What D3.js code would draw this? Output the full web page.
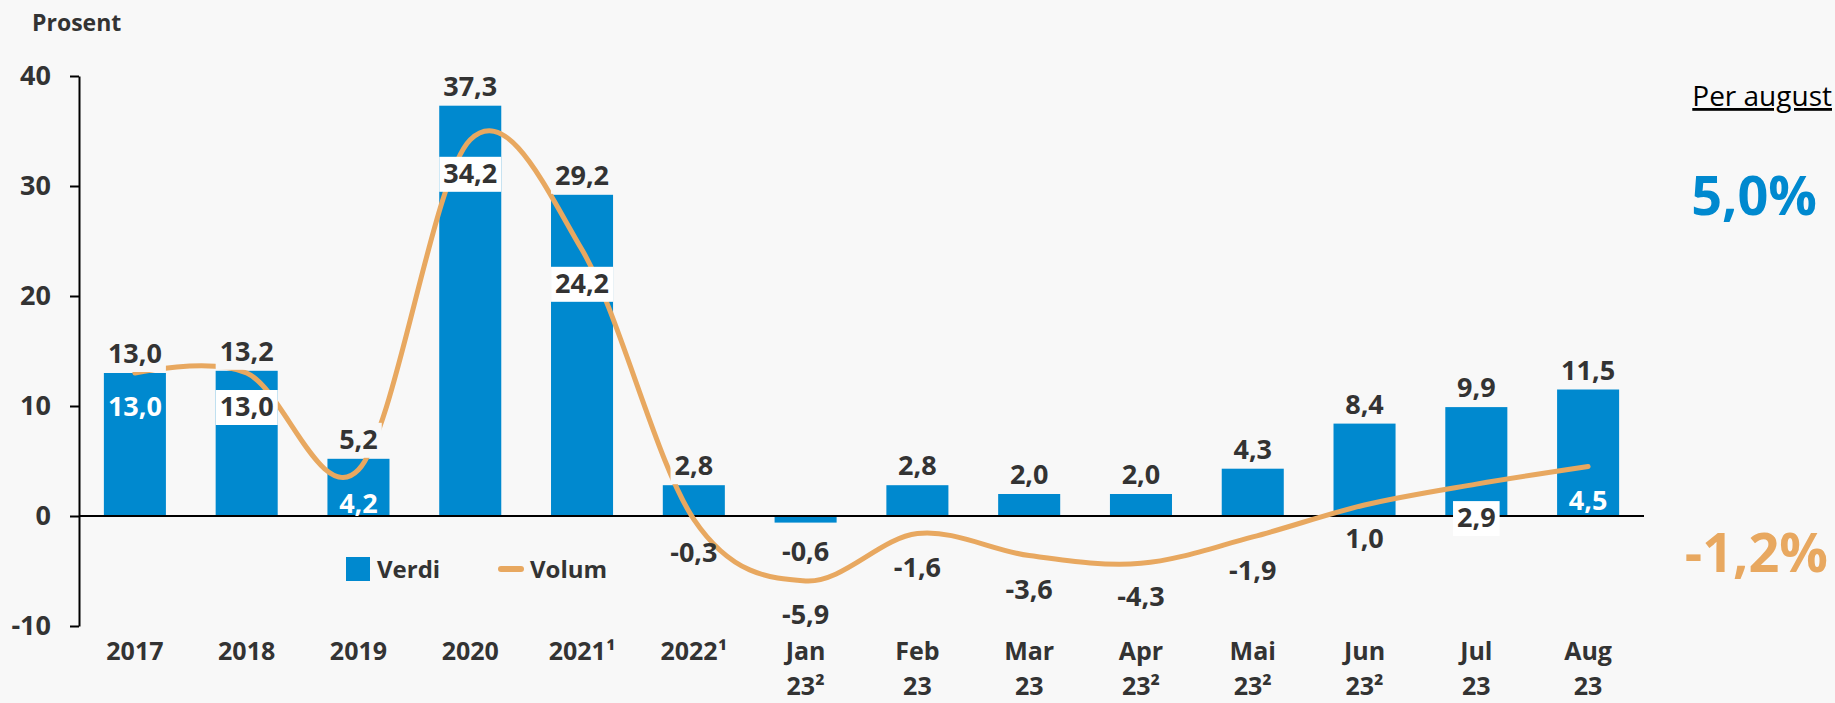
<!DOCTYPE html>
<html>
<head>
<meta charset="utf-8">
<script src="https://cdn.jsdelivr.net/npm/d3@7"></script>
<style>
  body { margin: 0; background: #f8f8f8; }
  text { font-family: "Open Sans", sans-serif; fill: #333; }
</style>
</head>
<body>
<svg id="chart"></svg>
<script>
const categories = ['2017', '2018', '2019', '2020', '2021¹', '2022¹', 'Jan 23²', 'Feb 23', 'Mar 23', 'Apr 23²', 'Mai 23²', 'Jun 23²', 'Jul 23', 'Aug 23'];
const verdi = [13.0, 13.2, 5.2, 37.3, 29.2, 2.8, -0.6, 2.8, 2.0, 2.0, 4.3, 8.4, 9.9, 11.5];
const volum = [13.0, 13.0, 4.2, 34.2, 24.2, -0.3, -5.9, -1.6, -3.6, -4.3, -1.9, 1.0, 2.9, 4.5];
// how each volum label is drawn: white text on bar, white box, or plain
const volumLabelStyle = ['white', 'box', 'white', 'box', 'box', 'plain', 'plain', 'plain', 'plain', 'plain', 'plain', 'plain', 'box', 'white'];
const yTicks = [-10, 0, 10, 20, 30, 40];
const seriesNames = ['Verdi', 'Volum'];
const summaryTitle = 'Per august';
const summaryValues = ['5,0%', '-1,2%'];

const width = 1835, height = 703;
const blue = '#0089cf', orange = '#e8a860', bg = '#f8f8f8';
const fmt = v => v.toFixed(1).replace('.', ',');

let svg = d3.select('#chart').attr('width', width).attr('height', height);
svg.append('rect').attr('width', width).attr('height', height).attr('fill', bg);

let x = d3.scaleBand().domain(categories).range([79, 1644]).paddingInner(0.445).paddingOuter(0.2225);
let y = d3.scaleLinear().domain([-10, 40]).range([626, 76]);
let cx = d => x(d) + x.bandwidth() / 2;

// y axis
let yAxis = svg.append('g')
  .attr('transform', 'translate(79,0)')
  .call(d3.axisLeft(y).tickValues(yTicks).tickSize(9).tickSizeOuter(0).tickPadding(19).tickFormat(d => String(d)));
yAxis.select('.domain').attr('stroke', '#000').attr('stroke-width', 2);
yAxis.selectAll('.tick line').attr('stroke', '#000').attr('stroke-width', 2);
yAxis.selectAll('.tick text')
  .attr('font-size', 27).attr('font-weight', 700).attr('fill', '#333')
  .style('font-family', '"Open Sans", sans-serif');

svg.append('text').attr('x', 32).attr('y', 31)
  .attr('font-size', 23).attr('font-weight', 700).text('Prosent');

// bars
svg.append('g').selectAll('rect')
  .data(categories)
  .enter()
  .append('rect')
  .attr('x', d => x(d))
  .attr('width', x.bandwidth())
  .attr('y', (d, i) => y(Math.max(0, verdi[i])))
  .attr('height', (d, i) => Math.abs(y(verdi[i]) - y(0)))
  .attr('fill', blue);

// zero line
svg.append('line')
  .attr('x1', 79).attr('x2', 1644)
  .attr('y1', y(0)).attr('y2', y(0))
  .attr('stroke', '#000').attr('stroke-width', 2);

// volum line
let line = d3.line()
  .x((d, i) => cx(categories[i]))
  .y(d => y(d))
  .curve(d3.curveCardinal.tension(0));

svg.append('path')
  .datum(volum)
  .attr('d', line)
  .attr('fill', 'none')
  .attr('stroke', orange)
  .attr('stroke-width', 5)
  .attr('stroke-linecap', 'round');

function addLabel(g, px, py, str, color, boxFill) {
  let t = g.append('text')
    .attr('x', px).attr('y', py)
    .attr('text-anchor', 'middle')
    .attr('font-size', 27).attr('font-weight', 700)
    .style('fill', color)
    .text(str);
  if (boxFill) {
    let b = t.node().getBBox();
    g.insert('rect', () => t.node())
      .attr('x', b.x - 4).attr('y', b.y + 3)
      .attr('width', b.width + 8).attr('height', b.height - 2)
      .attr('fill', boxFill);
  }
}

let labels = svg.append('g');

// verdi labels
categories.forEach((c, i) => {
  let v = verdi[i];
  let py = v >= 0 ? y(v) - 10 : y(v) + 38;
  addLabel(labels, cx(c), py, fmt(v), '#333', bg);
});

// volum labels
categories.forEach((c, i) => {
  let v = volum[i];
  let st = volumLabelStyle[i];
  addLabel(labels, cx(c), y(v) + 43, fmt(v),
    st === 'white' ? '#fff' : '#333',
    st === 'box' ? '#fff' : null);
});

// category labels, months on two lines
let cat = svg.append('g');
categories.forEach(c => {
  c.split(' ').forEach((p, k) => {
    cat.append('text')
      .attr('x', cx(c)).attr('y', 660 + k * 35)
      .attr('text-anchor', 'middle')
      .attr('font-size', 25).attr('font-weight', 700)
      .text(p);
  });
});

// legend
let legend = svg.append('g').attr('transform', 'translate(346,557)');
legend.append('rect').attr('width', 24).attr('height', 24).attr('fill', blue);
legend.append('text').attr('x', 31).attr('y', 21)
  .attr('font-size', 24).attr('font-weight', 700).text(seriesNames[0]);
legend.append('line').attr('x1', 155).attr('x2', 175).attr('y1', 12).attr('y2', 12)
  .attr('stroke', orange).attr('stroke-width', 6).attr('stroke-linecap', 'round');
legend.append('text').attr('x', 184).attr('y', 21)
  .attr('font-size', 24).attr('font-weight', 700).text(seriesNames[1]);

// summary on the right
svg.append('text').attr('x', 1832).attr('y', 106)
  .attr('text-anchor', 'end').attr('font-size', 28)
  .style('fill', '#000').style('text-decoration', 'underline')
  .text(summaryTitle);
svg.append('text').attr('x', 1817).attr('y', 215)
  .attr('text-anchor', 'end').attr('font-size', 54).attr('font-weight', 700)
  .style('fill', blue).text(summaryValues[0]);
svg.append('text').attr('x', 1828).attr('y', 572)
  .attr('text-anchor', 'end').attr('font-size', 54).attr('font-weight', 700)
  .style('fill', orange).text(summaryValues[1]);
</script>
</body>
</html>
